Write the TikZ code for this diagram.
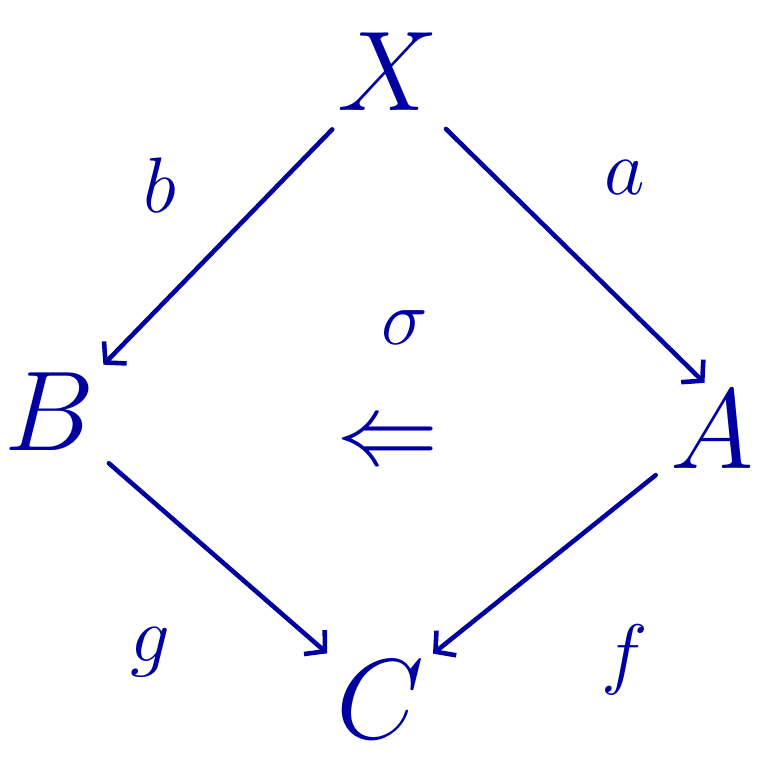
\documentclass[tikz,border=0pt]{standalone}
\usetikzlibrary{arrows.meta, positioning}
\definecolor{inkblue}{RGB}{0,0,160}
\tikzset{
  obj/.style={text=inkblue, font=\Huge, scale=2.6, inner sep=0pt},
  lbl/.style={text=inkblue, font=\Huge, scale=1.8, inner sep=0pt},
  arrow/.style={-{Straight Barb[length=8pt, width=18pt]}, line width=2.6pt,
                draw=inkblue, line cap=round},
}
\begin{document}
\begin{tikzpicture}[x=0.02cm, y=-0.02cm]
  \useasboundingbox (0,0) rectangle (764,760);
  % objects
  \node[obj] (x) at (388,72) {$X$};
  \node[obj] (b) at (50,412) {$B$};
  \node[obj] (a) at (712,430) {$A$};
  \node[obj] (c) at (380,700) {$C$};

  % maps
  \draw[arrow, shorten <=14pt, shorten >=6pt] (x) -- (b.north east);
  \draw[arrow, shorten <=14pt, shorten >=6pt] (x) -- (a.north);
  \draw[arrow, shorten <=10pt, shorten >=6pt] (b) -- (c.north west);
  \draw[arrow, shorten <=10pt, shorten >=6pt] (a) -- (c.north east);

  % labels
  \node[lbl] (lb) at (160,185) {$b$};
  \node[lbl] (la) at (625,178) {$a$};
  \node[lbl] (lg) at (150,652) {$g$};
  \node[lbl] (lf) at (625,660) {$f$};

  % 2-cell
  \node[lbl] (sig) at (405,328) {$\sigma$};
  \node[obj, scale=0.9] (cell) at (388,446) {$\Leftarrow$};
\end{tikzpicture}
\end{document}
